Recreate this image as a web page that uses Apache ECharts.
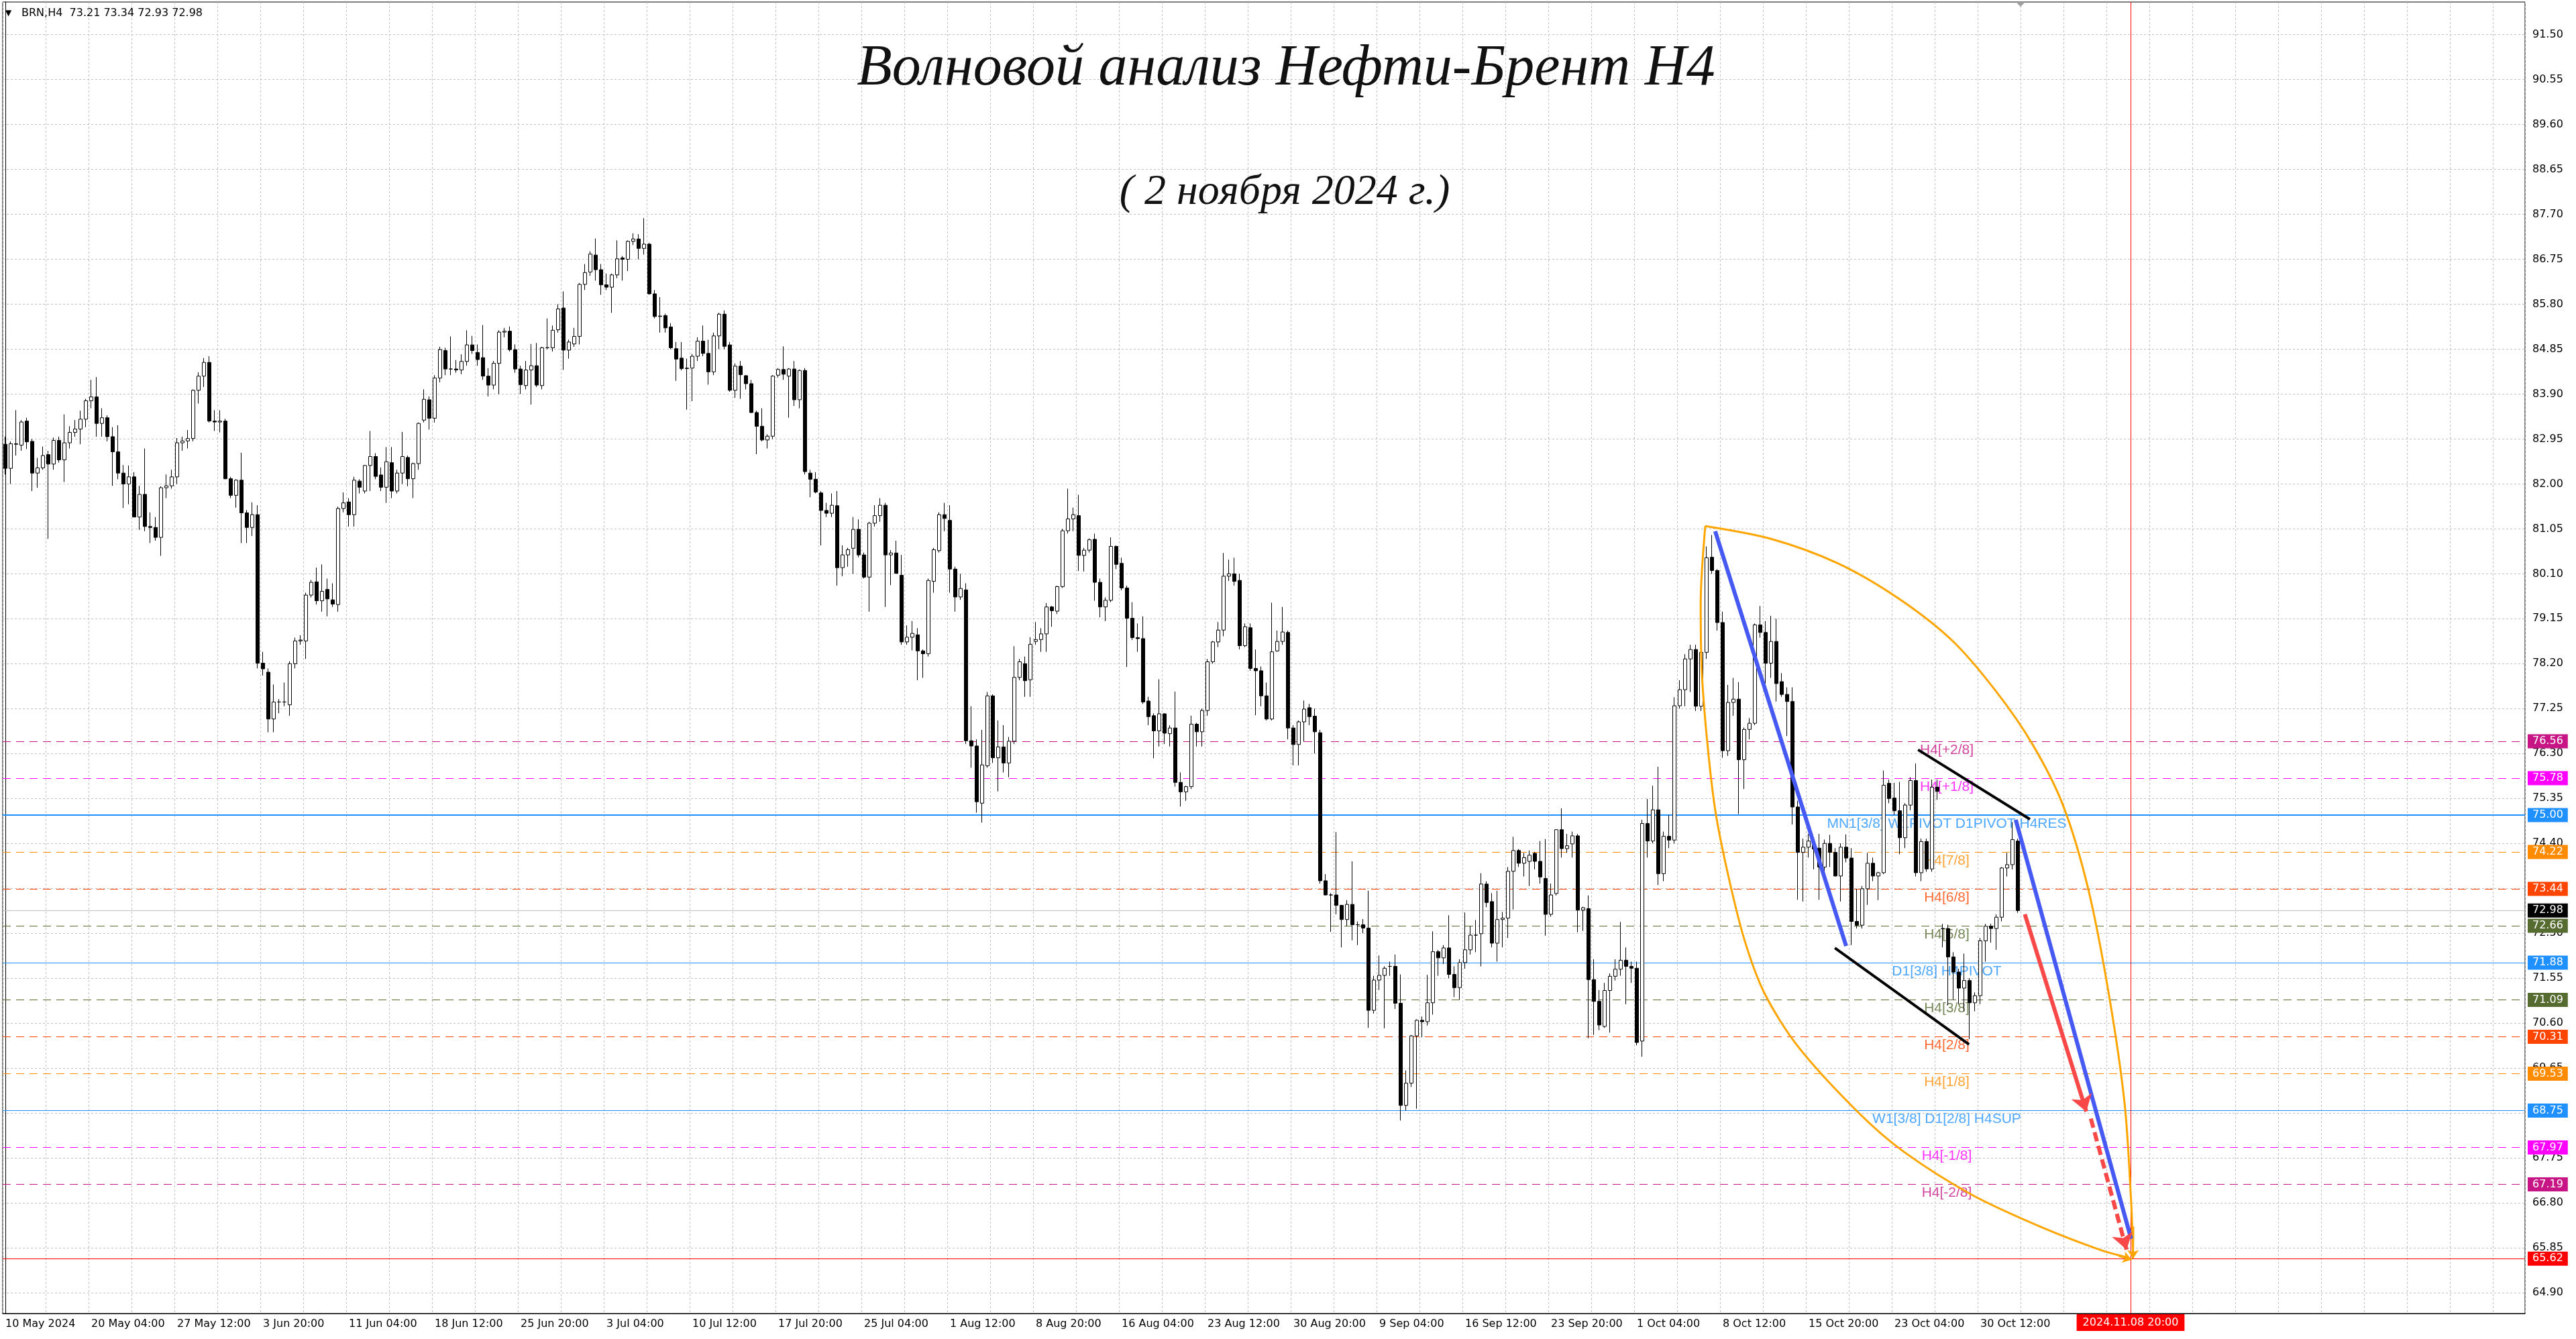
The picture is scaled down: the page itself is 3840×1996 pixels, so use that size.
<!DOCTYPE html>
<html>
<head>
<meta charset="utf-8">
<script src="https://cdn.jsdelivr.net/npm/echarts@6/dist/echarts.min.js"></script>
<style>
html,body{margin:0;padding:0;background:#fff;}
#c{width:3840px;height:1996px;}
</style>
</head>
<body>
<div id="c"></div>
<script>
// ---------- data (each candle = two H4 bars) ----------
const timeLabels = ['10 May 2024','20 May 04:00','27 May 12:00','3 Jun 20:00','11 Jun 04:00','18 Jun 12:00','25 Jun 20:00','3 Jul 04:00','10 Jul 12:00','17 Jul 20:00','25 Jul 04:00','1 Aug 12:00','8 Aug 20:00','16 Aug 04:00','23 Aug 12:00','30 Aug 20:00','9 Sep 04:00','16 Sep 12:00','23 Sep 20:00','1 Oct 04:00','8 Oct 12:00','15 Oct 20:00','23 Oct 04:00','30 Oct 12:00'];
const futureTimeLabel = '2024.11.08 20:00';
const yTickLabels = ['64.90','65.85','66.80','67.75','68.70','69.65','70.60','71.55','72.50','73.45','74.40','75.35','76.30','77.25','78.20','79.15','80.10','81.05','82.00','82.95','83.90','84.85','85.80','86.75','87.70','88.65','89.60','90.55','91.50'];
const lastBar = [73.21, 73.34, 72.93, 72.98];

const opens = [
82.84,82.33,82.85,82.82,83.33,82.9,82.23,82.34,82.62,82.42,
82.92,82.51,82.87,83.09,83.16,83.37,83.76,83.84,83.28,83.4,
83.0,82.68,82.23,82.0,82.15,81.3,81.78,81.1,81.08,80.87,
81.92,81.96,82.15,82.87,82.91,82.96,83.98,84.28,84.57,83.33,
83.31,83.33,82.11,81.76,82.08,81.39,81.08,81.35,78.21,78.02,
77.03,77.39,77.39,77.33,78.2,78.68,78.68,79.65,79.93,79.53,
79.77,79.55,79.45,81.48,81.62,81.35,82.06,81.85,82.39,82.58,
82.19,81.93,82.45,81.85,82.23,82.56,82.11,82.43,83.35,83.78,
83.39,84.24,84.82,84.43,84.43,84.41,84.59,84.94,84.78,84.67,
84.28,84.09,84.55,85.21,85.23,84.84,84.43,84.08,84.41,84.5,
84.08,84.88,84.88,85.26,85.72,84.83,84.96,85.12,86.22,86.48,
86.84,86.53,86.21,86.16,86.42,86.78,86.75,87.13,87.18,86.98,
87.07,86.02,85.54,85.56,85.32,84.86,84.66,84.44,84.45,84.7,
85.02,84.76,84.37,85.13,85.59,84.94,83.98,84.49,84.29,84.12,
83.51,83.22,82.93,83.01,84.3,84.42,84.28,84.43,83.78,84.4,
82.23,82.1,81.81,81.44,81.38,81.54,80.23,80.5,80.64,81.04,
80.5,80.03,81.17,81.33,81.55,80.5,80.54,80.07,78.66,78.76,
78.81,78.47,78.41,79.94,80.59,81.35,81.23,80.2,79.61,79.76,
76.57,76.46,75.25,76.04,77.52,76.21,76.44,76.1,76.56,77.91,
78.2,77.86,78.67,78.71,78.83,79.4,79.31,79.83,81.01,81.26,
81.33,80.49,80.6,80.83,79.92,79.4,79.54,80.68,80.32,79.8,
79.16,78.75,78.73,77.41,77.1,76.78,77.14,76.72,76.84,75.69,
75.49,75.6,76.92,76.76,77.21,78.24,78.66,78.91,80.05,80.1,
79.96,78.58,78.96,78.1,78.05,77.52,77.03,78.47,78.67,78.86,
76.84,76.49,76.97,77.27,77.09,76.74,73.61,73.31,73.31,73.09,
72.79,73.11,72.68,72.68,72.61,70.87,71.51,71.61,71.8,71.8,
71.02,68.86,69.33,70.33,70.66,70.63,71.03,72.11,71.98,72.19,
71.63,71.35,71.88,72.15,72.46,72.49,73.54,73.17,72.29,72.79,
72.82,73.81,74.25,73.98,74.02,74.19,74.02,73.66,72.9,73.34,
74.69,74.29,74.39,74.56,72.99,73.02,71.52,71.06,70.53,71.29,
71.59,71.74,71.93,71.8,71.76,70.22,74.82,74.45,75.11,73.76,
74.55,74.47,77.31,77.65,78.3,78.5,77.3,78.44,80.45,80.17,
79.07,76.36,77.38,77.45,76.17,76.81,76.94,79.02,78.86,78.21,
78.67,77.82,77.55,77.4,75.17,74.21,74.32,74.4,74.3,73.9,
74.4,74.21,73.71,74.32,74.09,72.75,72.67,73.44,73.98,73.71,
73.78,75.67,75.36,75.09,74.52,75.21,75.73,73.78,74.44,73.86,
75.59,72.6,72.6,72.0,71.68,71.34,71.5,71.03,71.18,72.34,
72.65,72.6,72.84,73.88,73.95,74.45];

const highs = [
83.0,82.9,83.56,83.35,83.4,82.95,82.55,82.79,82.7,82.98,
83.0,83.47,83.22,83.35,83.55,83.8,84.2,84.26,83.6,83.45,
83.2,83.24,82.4,82.39,82.25,81.96,82.75,81.4,81.3,81.95,
82.2,82.3,82.97,83.0,83.14,84.0,84.36,84.66,84.7,83.56,
83.56,83.38,82.15,82.1,82.66,81.45,81.61,81.55,78.45,78.1,
77.76,77.45,77.8,78.25,78.75,78.8,79.7,79.97,80.23,80.3,
80.0,79.9,81.52,81.82,81.7,82.15,82.1,82.4,83.12,82.65,
82.35,82.78,82.78,82.3,83.1,82.6,82.45,83.3,84.0,83.85,
84.3,84.9,84.88,85.12,84.62,84.74,85.25,85.13,84.95,85.36,
84.45,84.6,85.25,85.3,85.33,84.95,84.5,84.6,84.96,84.98,
84.9,85.5,85.35,85.8,86.07,85.05,85.3,86.25,86.65,86.92,
87.19,86.65,86.45,86.45,87.15,86.82,87.15,87.3,87.28,87.62,
87.1,86.1,85.95,85.6,85.4,85.0,85.0,84.65,84.75,85.1,
85.35,85.05,85.2,85.62,85.67,85.0,84.55,84.6,84.3,84.2,
83.55,83.6,83.05,84.3,84.45,84.91,84.45,84.6,84.42,84.45,
82.3,82.25,81.85,81.6,81.8,81.85,80.7,80.65,81.3,81.25,
80.55,81.2,81.55,81.7,81.6,80.6,80.8,80.5,79.01,79.1,
78.95,78.5,80.0,80.65,81.4,81.6,81.55,80.25,80.1,79.9,
77.3,76.6,76.8,77.6,77.55,77.0,76.9,76.65,78.57,78.3,
78.35,78.76,79.08,78.95,79.48,79.42,79.85,81.05,81.9,81.5,
81.77,80.65,80.85,80.95,80.0,79.6,80.87,80.7,80.44,79.85,
79.5,79.05,79.2,77.5,77.15,77.87,77.15,76.9,77.61,75.9,
75.62,77.1,76.95,77.25,78.3,78.68,79.08,80.54,80.4,80.44,
80.1,79.05,79.05,78.5,78.14,77.8,79.49,78.9,79.4,78.9,
76.9,77.0,77.42,77.35,77.25,76.8,73.75,73.35,74.64,73.1,
73.2,74.02,72.75,72.8,73.4,71.6,72.03,71.8,71.9,72.05,
71.63,69.6,70.35,70.68,70.74,71.62,72.54,72.15,72.25,72.88,
71.8,71.95,72.94,72.65,72.78,73.77,73.6,73.35,73.4,72.95,
73.9,74.54,74.28,74.2,74.25,74.22,74.45,74.49,73.55,74.7,
75.14,74.6,74.65,74.6,73.06,73.3,71.95,71.3,71.45,71.65,
71.95,72.74,72.2,71.9,71.9,74.9,75.34,75.62,76.02,74.65,
75.0,77.49,77.85,78.4,78.6,78.6,78.5,80.68,80.92,80.2,
79.3,77.75,77.9,77.81,76.85,77.05,79.05,79.42,79.1,79.21,
79.15,78.0,77.7,77.7,75.3,74.5,74.6,74.5,74.6,74.48,
74.58,74.3,74.4,74.59,74.3,73.44,73.5,74.2,74.1,73.8,
75.94,75.75,75.68,75.7,75.25,75.8,76.09,74.5,74.5,75.75,
75.75,72.7,72.68,72.1,71.75,72.07,71.55,71.25,72.4,72.7,
72.7,72.9,73.9,74.2,74.85,74.5];

const lows = [
82.2,82.0,82.6,82.7,82.74,81.85,81.92,82.3,80.84,82.3,
82.45,82.04,82.75,83.0,82.84,83.2,83.6,83.0,83.0,82.9,
81.96,82.1,81.49,81.57,81.3,81.03,81.0,80.75,80.8,80.48,
81.7,81.9,82.0,82.7,82.75,82.9,83.7,84.05,83.3,83.12,
83.09,82.1,81.7,81.5,80.75,80.75,80.9,78.1,77.95,76.75,
76.75,77.15,77.3,77.1,78.1,78.6,78.3,79.6,79.45,79.3,
79.2,79.4,79.3,81.4,81.1,81.1,81.8,81.8,81.85,82.1,
81.85,81.6,81.7,81.8,82.0,81.95,81.7,82.3,83.3,83.15,
83.3,84.15,84.3,84.3,84.35,84.32,84.5,84.75,84.5,84.2,
83.85,84.0,83.9,85.1,84.8,84.35,83.9,84.0,83.68,84.05,
84.0,84.85,84.8,85.2,84.41,84.65,84.9,84.95,86.1,86.4,
86.3,86.0,86.1,85.62,86.35,86.3,86.5,87.05,86.75,86.85,
86.0,85.5,85.2,85.2,84.85,84.18,84.4,83.57,83.75,84.6,
84.7,84.1,84.3,84.85,84.85,83.95,83.82,83.8,84.0,83.5,
82.63,82.9,82.75,82.95,84.25,84.2,83.4,83.65,83.6,82.2,
81.72,81.8,80.7,81.3,81.3,79.85,80.05,80.25,80.1,80.45,
80.0,79.3,81.1,81.2,79.4,79.86,80.1,78.6,78.6,78.48,
77.85,77.9,78.35,79.7,80.55,81.0,79.7,79.3,79.55,76.5,
76.0,75.05,74.84,76.0,76.1,75.5,75.9,75.8,76.5,77.85,
77.5,77.5,78.6,78.45,78.45,78.98,79.25,79.8,80.95,81.0,
80.16,80.15,80.55,79.53,79.18,79.1,79.5,80.2,79.75,78.13,
78.7,78.45,77.35,76.9,76.2,76.45,76.5,76.45,75.6,75.18,
75.3,75.55,76.45,76.45,77.1,78.2,78.55,78.78,79.95,79.85,
78.5,78.55,78.05,77.11,77.3,77.0,77.0,78.45,78.6,76.6,
76.05,76.05,76.55,76.9,76.3,73.55,73.3,72.53,72.9,72.2,
72.65,72.35,72.25,72.5,70.5,70.8,71.3,70.49,71.6,70.9,
68.54,68.75,69.25,68.79,70.3,70.55,70.78,71.6,71.85,71.55,
71.15,71.1,71.75,72.05,72.1,71.8,73.05,72.2,71.9,72.2,
72.4,73.0,73.9,73.7,73.5,73.85,73.55,72.45,72.85,73.3,
74.1,74.2,74.1,72.52,72.55,70.28,70.35,70.45,70.5,70.4,
71.5,71.6,71.0,71.45,70.13,69.89,74.1,74.4,73.52,73.6,
74.3,74.4,77.25,77.3,77.6,77.2,77.2,78.3,80.1,78.9,
76.21,76.25,77.1,75.02,75.55,76.6,76.9,78.75,77.78,77.9,
77.4,77.5,76.67,74.8,73.21,73.17,74.1,73.85,73.21,73.75,
73.9,73.7,73.17,74.0,72.25,72.6,72.6,73.1,73.6,73.2,
73.75,75.25,75.0,74.17,74.3,75.1,73.7,73.6,73.8,73.8,
75.32,72.2,70.98,71.1,71.0,70.85,70.26,70.85,71.0,71.9,
72.3,72.15,72.75,73.7,73.85,72.93];

const closes = [
82.33,82.85,82.84,83.31,82.89,82.23,82.34,82.6,82.42,82.92,
82.51,82.87,83.09,83.16,83.37,83.76,83.84,83.28,83.4,83.0,
82.68,82.23,82.0,82.15,81.3,81.78,81.1,81.08,80.87,81.92,
81.96,82.15,82.87,82.91,82.96,83.98,84.28,84.57,83.33,83.31,
83.33,82.11,81.76,82.08,81.39,81.08,81.35,78.21,78.09,77.03,
77.39,77.39,77.39,78.2,78.68,78.7,79.65,79.92,79.53,79.73,
79.57,79.46,81.48,81.6,81.35,82.08,81.93,82.39,82.58,82.16,
81.93,82.47,81.85,82.23,82.58,82.11,82.43,83.28,83.79,83.39,
84.24,84.84,84.43,84.43,84.41,84.59,84.94,84.82,84.63,84.28,
84.09,84.55,85.21,85.23,84.84,84.43,84.1,84.41,84.5,84.09,
84.88,84.88,85.25,85.7,84.83,85.0,85.12,86.22,86.47,86.86,
86.53,86.21,86.16,86.42,86.76,86.75,87.13,87.18,86.98,87.07,
86.02,85.54,85.55,85.3,84.88,84.64,84.44,84.45,84.7,85.02,
84.76,84.37,85.13,85.59,84.91,83.98,84.49,84.31,84.12,83.51,
83.22,82.93,83.01,84.28,84.42,84.32,84.43,83.78,84.4,82.26,
82.1,81.83,81.44,81.38,81.55,80.23,80.5,80.61,81.04,80.5,
80.03,81.17,81.33,81.55,80.5,80.54,80.11,78.66,78.76,78.84,
78.47,78.41,79.96,80.61,81.35,81.27,80.2,79.61,79.79,76.57,
76.46,75.28,76.06,77.52,76.21,76.44,76.1,76.56,77.91,78.24,
77.84,78.61,78.71,78.83,79.4,79.32,79.83,81.01,81.26,81.35,
80.49,80.6,80.82,79.92,79.4,79.54,80.68,80.3,79.8,79.16,
78.75,78.73,77.39,77.08,76.78,77.14,76.73,76.84,75.69,75.49,
75.6,76.92,76.76,77.21,78.24,78.66,78.91,80.05,80.1,79.94,
78.58,78.98,78.1,78.05,77.52,77.03,78.45,78.67,78.87,76.84,
76.49,76.97,77.24,77.08,76.76,73.61,73.31,73.31,73.09,72.79,
73.11,72.68,72.68,72.61,70.87,71.51,71.61,71.76,71.8,71.02,
68.86,69.33,70.33,70.66,70.63,71.03,72.11,71.98,72.19,71.63,
71.35,71.88,72.15,72.46,72.46,73.54,73.15,72.29,72.79,72.82,
73.81,74.25,73.98,74.1,74.15,74.02,73.69,72.9,73.31,74.69,
74.29,74.35,74.56,72.99,73.04,71.52,71.06,70.56,71.29,71.59,
71.74,71.93,71.8,71.76,70.19,74.82,74.45,75.11,73.76,74.55,
74.47,77.31,77.65,78.3,78.5,77.3,78.44,80.44,80.17,79.07,
76.36,77.38,77.45,76.17,76.81,76.94,79.02,78.86,78.21,78.67,
77.78,77.55,77.4,75.17,74.21,74.32,74.45,74.28,73.9,74.4,
74.21,73.71,74.32,74.09,72.75,72.67,73.44,73.98,73.71,73.78,
75.63,75.35,75.09,74.52,75.21,75.73,73.78,74.44,73.86,75.59,
75.5,72.6,72.0,71.68,71.34,71.5,71.03,71.18,72.34,72.65,
72.6,72.84,73.88,73.95,74.48,72.98];

// Murrey / pivot levels
const levelPrices = [76.56, 75.78, 75.00, 74.22, 73.44, 72.66, 71.88, 71.09, 70.31, 69.53, 68.75, 67.97, 67.19];
const levelNames  = ['H4[+2/8]','H4[+1/8]','MN1[3/8] W1PIVOT D1PIVOT H4RES','H4[7/8]','H4[6/8]','H4[5/8]','D1[3/8] H4PIVOT','H4[3/8]','H4[2/8]','H4[1/8]','W1[3/8] D1[2/8] H4SUP','H4[-1/8]','H4[-2/8]'];
const levelColors = ['#C71585','#FF00FF','#1E90FF','#FF8C00','#FF4500','#556B2F','#1E90FF','#556B2F','#FF4500','#FF8C00','#1E90FF','#FF00FF','#C71585'];
const levelSolid  = [false,false,true,false,false,false,true,false,false,false,true,false,false];
const currentPrice = 72.98;
const targetPrice = 65.62;

// annotation anchors in (bar slot, price)
const totalSlots = 470;
const labelEvery = 16;
const targetSlot = 396;
const levelTextSlot = 361.75;
const blueLines = [[[318.6, 81.0], [343.0, 72.23]], [[374.6, 74.9], [396.1, 66.04]]];
const blackLines = [[[356.4, 76.38], [377.25, 74.91]], [[340.9, 72.19], [365.9, 70.15]]];
const redArrowSolid = [[376.3, 72.9], [387.75, 68.73]];
const redArrowDashed = [[388.6, 68.58], [395.25, 65.81]];
const arcUpper = [[316.75,81.11],[329,80.84],[341.5,80.32],[352.75,79.58],[362.75,78.69],[370.9,77.62],[377.75,76.49],[383.4,75.21],[388.1,73.44],[392,71.18],[394.9,68.89],[396.1,66.84],[396.45,65.75]];
const arcLower = [[316.75,81.11],[315.9,79.47],[316.1,78.05],[317.1,76.57],[318.6,75.11],[320.9,73.79],[324,72.38],[327.75,71.24],[334,70.11],[345.1,68.73],[353.75,67.88],[366.6,66.96],[379.5,66.28],[390.25,65.81],[395.6,65.64]];
const arcHeads = [[[396.5, 66.3], [396.45, 65.62]], [[393.8, 65.68], [396.2, 65.6]]];

// ---------- build ----------
const FONT = 'DejaVu Sans';
const n = Math.min(opens.length, highs.length, lows.length, closes.length);
const candles = [];
for (let i = 0; i < n; i++) candles.push([opens[i], closes[i], lows[i], highs[i]]);

const cats = [];
for (let i = 0; i < totalSlots; i++) {
  const k = i / labelEvery;
  cats.push(i % labelEvery === 0 && k < timeLabels.length ? timeLabels[k] : 's' + i);
}

const gridLineData = yTickLabels.map(t => ({ yAxis: parseFloat(t), label: { formatter: t } }));

const levelLineData = levelPrices.map((p, i) => ({
  yAxis: p,
  lineStyle: { color: levelColors[i], type: levelSolid[i] ? 'solid' : [12, 8], width: p === 75.00 ? 2 : 1 },
  label: { formatter: p.toFixed(2), backgroundColor: levelColors[i] }
}));
levelLineData.push({ yAxis: currentPrice, lineStyle: { color: '#C0C0C0', type: 'solid', width: 1 }, label: { formatter: currentPrice.toFixed(2), backgroundColor: '#000000' } });
levelLineData.push({ yAxis: targetPrice, lineStyle: { color: '#FF0000', type: 'solid', width: 1 }, label: { formatter: targetPrice.toFixed(2), backgroundColor: '#FF0000' } });

const levelTextData = levelPrices.map((p, i) => ({ value: [levelTextSlot, p], label: { color: levelColors[i] } }));

const ANN_BLUE = '#4659F2';
const ANN_RED = '#F84848';
const ORANGE = '#FFA500';

const chart = echarts.init(document.getElementById('c'), null, { renderer: 'canvas' });
chart.setOption({
  animation: false,
  backgroundColor: '#ffffff',
  textStyle: { fontFamily: FONT },
  grid: { left: 4, right: 76, top: 3, bottom: 38, show: true, borderColor: '#000', borderWidth: 1, backgroundColor: '#fff', containLabel: false, outerBoundsMode: 'none' },
  xAxis: [
    {
      type: 'category', data: cats, boundaryGap: true,
      axisLine: { show: true, lineStyle: { color: '#000', width: 1 } },
      axisTick: { show: false },
      axisLabel: {
        interval: (i) => i % labelEvery === 0 && i / labelEvery < timeLabels.length,
        align: 'left', margin: 8, fontSize: 16, fontFamily: FONT, color: '#000',
        formatter: (v) => v
      },
      splitLine: { show: true, interval: (i) => i % 8 === 0, lineStyle: { color: '#C0C0C0', type: [3, 3], width: 1 } }
    },
    { type: 'value', min: -0.5, max: totalSlots - 0.5, show: false }
  ],
  yAxis: [{
    type: 'value', position: 'right', min: 64.46, max: 92.19,
    axisLine: { show: true, lineStyle: { color: '#000', width: 1 } },
    axisTick: { show: false }, axisLabel: { show: false }, splitLine: { show: false }
  }],
  graphic: [
    { type: 'text', z: 10, style: { x: 1917, y: 103, text: 'Волновой анализ Нефти-Брент H4', font: 'italic 86px "Liberation Serif"', fill: '#111', textAlign: 'center', textVerticalAlign: 'middle', align: 'center', verticalAlign: 'middle' } },
    { type: 'text', z: 10, style: { x: 1915, y: 287, text: '( 2 ноября 2024 г.)', font: 'italic 64px "Liberation Serif"', fill: '#111', textAlign: 'center', textVerticalAlign: 'middle', align: 'center', verticalAlign: 'middle' } },
    { type: 'text', z: 10, style: { x: 8, y: 20, text: '▼', font: '12px "DejaVu Sans"', fill: '#000', textVerticalAlign: 'middle', verticalAlign: 'middle' } },
    { type: 'text', z: 10, style: { x: 32, y: 20, text: 'BRN,H4  ' + lastBar.map(v => v.toFixed(2)).join(' '), font: '16px "DejaVu Sans"', fill: '#000', textVerticalAlign: 'middle', verticalAlign: 'middle' } },
    { type: 'polygon', z: 10, shape: { points: [[3005, 3], [3019, 3], [3012, 10]] }, style: { fill: '#A0A0A0' } }
  ],
  series: [
    {
      name: 'grid', type: 'line', data: [], xAxisIndex: 0, yAxisIndex: 0, silent: true, z: 1,
      markLine: {
        silent: true, symbol: 'none', z: 1, animation: false,
        lineStyle: { color: '#C0C0C0', type: [3, 3], width: 1 },
        label: { show: true, position: 'end', distance: 11, color: '#000', fontSize: 16, fontFamily: FONT },
        emphasis: { disabled: true },
        data: gridLineData
      }
    },
    {
      name: 'levels', type: 'line', data: [], xAxisIndex: 0, yAxisIndex: 0, silent: true, z: 2,
      markLine: {
        silent: true, symbol: 'none', z: 2, animation: false,
        label: { show: true, position: 'end', distance: 4, color: '#fff', fontSize: 16, fontFamily: FONT, padding: [3, 7, 2, 7] },
        emphasis: { disabled: true },
        data: levelLineData
      }
    },
    {
      name: 'levelText', type: 'scatter', xAxisIndex: 1, yAxisIndex: 0, silent: true, z: 2,
      symbol: 'circle', symbolSize: 1, itemStyle: { color: 'rgba(0,0,0,0)' },
      label: { show: true, position: 'bottom', distance: 2, fontSize: 21, fontFamily: 'Liberation Sans', formatter: (p) => levelNames[p.dataIndex] },
      labelLayout: { hideOverlap: false },
      data: levelTextData
    },
    {
      name: 'BRN,H4', type: 'candlestick', xAxisIndex: 0, yAxisIndex: 0, z: 3,
      barWidth: 5,
      itemStyle: { color: '#ffffff', color0: '#000000', borderColor: '#000000', borderColor0: '#000000', borderWidth: 1 },
      data: candles
    },
    {
      name: 'arcUpper', type: 'line', xAxisIndex: 1, yAxisIndex: 0, z: 5, silent: true,
      smooth: 0.3, symbol: 'none', lineStyle: { color: ORANGE, width: 3 }, data: arcUpper
    },
    {
      name: 'arcLower', type: 'line', xAxisIndex: 1, yAxisIndex: 0, z: 5, silent: true,
      smooth: 0.3, symbol: 'none', lineStyle: { color: ORANGE, width: 3 }, data: arcLower,
      markLine: {
        silent: true, symbol: 'none', z: 4, animation: false,
        lineStyle: { color: '#FF0000', type: 'solid', width: 1 },
        label: { show: true, position: 'start', distance: 1, formatter: futureTimeLabel, color: '#fff', backgroundColor: '#FF0000', padding: [5, 9, 4, 9], fontSize: 16, fontFamily: FONT },
        emphasis: { disabled: true },
        data: [{ xAxis: targetSlot }]
      }
    },
    {
      name: 'arcHeads', type: 'lines', coordinateSystem: 'cartesian2d', xAxisIndex: 1, yAxisIndex: 0, z: 5, silent: true,
      symbol: ['none', 'arrow'], symbolSize: 13,
      lineStyle: { color: ORANGE, width: 3, opacity: 1 },
      data: arcHeads.map(c => ({ coords: c }))
    },
    {
      name: 'trendLines', type: 'lines', coordinateSystem: 'cartesian2d', xAxisIndex: 1, yAxisIndex: 0, z: 6, silent: true,
      symbol: 'none',
      lineStyle: { opacity: 1 },
      data: blueLines.map(c => ({ coords: c, lineStyle: { color: ANN_BLUE, width: 6 } }))
        .concat(blackLines.map(c => ({ coords: c, lineStyle: { color: '#000', width: 4 } })))
    },
    {
      name: 'arrowSolid', type: 'lines', coordinateSystem: 'cartesian2d', xAxisIndex: 1, yAxisIndex: 0, z: 7, silent: true,
      symbol: ['none', 'arrow'], symbolSize: 24,
      lineStyle: { color: ANN_RED, width: 6, opacity: 1 },
      data: [{ coords: redArrowSolid }]
    },
    {
      name: 'arrowDashed', type: 'lines', coordinateSystem: 'cartesian2d', xAxisIndex: 1, yAxisIndex: 0, z: 7, silent: true,
      symbol: ['none', 'arrow'], symbolSize: 24,
      lineStyle: { color: ANN_RED, width: 6, type: [14, 7], opacity: 1 },
      data: [{ coords: redArrowDashed }]
    }
  ]
});
</script>
</body>
</html>
